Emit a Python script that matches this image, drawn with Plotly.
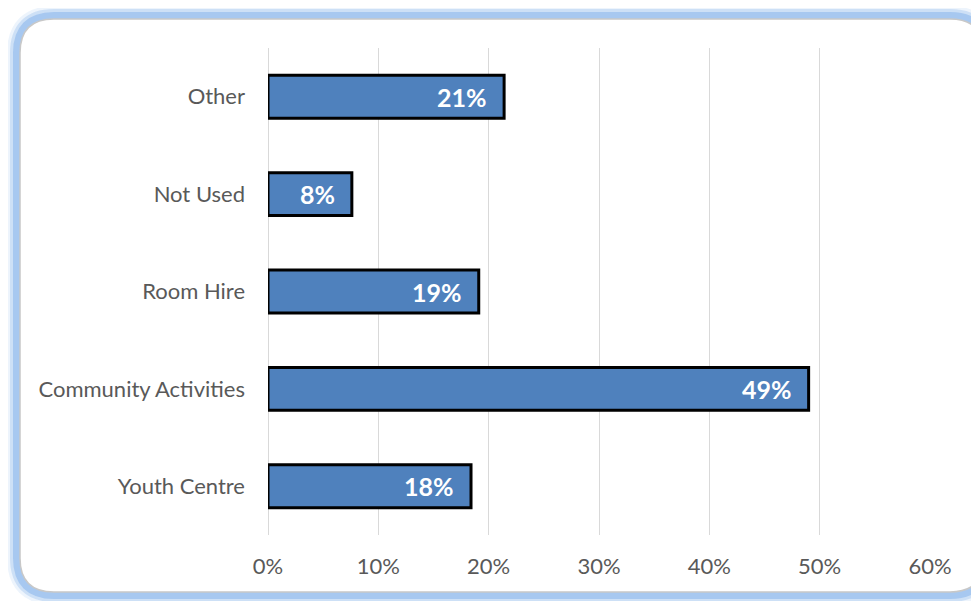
import plotly.graph_objects as go

categories = ["Youth Centre", "Community Activities", "Room Hire", "Not Used", "Other"]
values = [0.184, 0.490, 0.191, 0.076, 0.214]
tick_vals = [0, 0.1, 0.2, 0.3, 0.4, 0.5, 0.6]
tick_text = ["0%", "10%", "20%", "30%", "40%", "50%", "60%"]

OFF = 8  # page body margin
W, H = 979 - OFF, 601 - OFF
# plot area in page pixels
L, R, T, B = 268, 930, 48, 535

def px(x):
    return (x - L) / (R - L)

def py(y):
    return (B - y) / (B - T)

def rounded_path(x0, y0, x1, y1, r):
    def P(x, y):
        return f"{px(x):.5f},{py(y):.5f}"
    return (f"M {P(x0 + r, y0)} L {P(x1 - r, y0)} Q {P(x1, y0)} {P(x1, y0 + r)} "
            f"L {P(x1, y1 - r)} Q {P(x1, y1)} {P(x1 - r, y1)} "
            f"L {P(x0 + r, y1)} Q {P(x0, y1)} {P(x0, y1 - r)} "
            f"L {P(x0, y0 + r)} Q {P(x0, y0)} {P(x0 + r, y0)} Z")

box = (20, 19, 984, 592, 34)
shapes = []
for w, c in [(26, "rgba(167,199,240,0.2)"), (20, "rgba(167,199,240,0.45)"), (14, "rgba(160,195,238,0.85)")]:
    shapes.append(dict(type="path", xref="paper", yref="paper", path=rounded_path(*box),
                       line=dict(color=c, width=w), fillcolor="rgba(0,0,0,0)", layer="below"))
shapes.append(dict(type="path", xref="paper", yref="paper", path=rounded_path(*box),
                   line=dict(color="#C8C8C8", width=1.5), fillcolor="white", layer="below"))

fig = go.Figure()
fig.add_trace(go.Bar(
    y=categories, x=values, orientation="h", width=0.44,
    marker=dict(color="#4F81BD", line=dict(color="black", width=3)),
    hoverinfo="skip",
))

annotations = []
for c, v in zip(categories, values):
    annotations.append(dict(x=v, y=c, xref="x", yref="y", text=f"<b>{round(v*100)}%</b>",
                            showarrow=False, xanchor="right", yanchor="middle", xshift=-15,
                            font=dict(family="Lato", size=25, color="white")))

fig.update_layout(
    width=W, height=H,
    margin=dict(l=L - OFF, r=979 - R, t=T - OFF, b=601 - B),
    paper_bgcolor="white", plot_bgcolor="rgba(0,0,0,0)",
    shapes=shapes, annotations=annotations,
    showlegend=False,
    font=dict(family="Lato", size=22, color="#595959"),
    xaxis=dict(range=[0, 0.6], tickvals=tick_vals, ticktext=tick_text,
               showgrid=True, gridcolor="#D9D9D9", gridwidth=1.3,
               zeroline=True, zerolinecolor="#D9D9D9", zerolinewidth=1.3,
               showline=False, ticks="", ticklabelstandoff=16, fixedrange=True),
    yaxis=dict(categoryorder="array", categoryarray=categories,
               showgrid=False, showline=False, ticks="", ticklabelstandoff=22,
               range=[-0.5, 4.5], fixedrange=True),
)

fig.write_html("out.html")
